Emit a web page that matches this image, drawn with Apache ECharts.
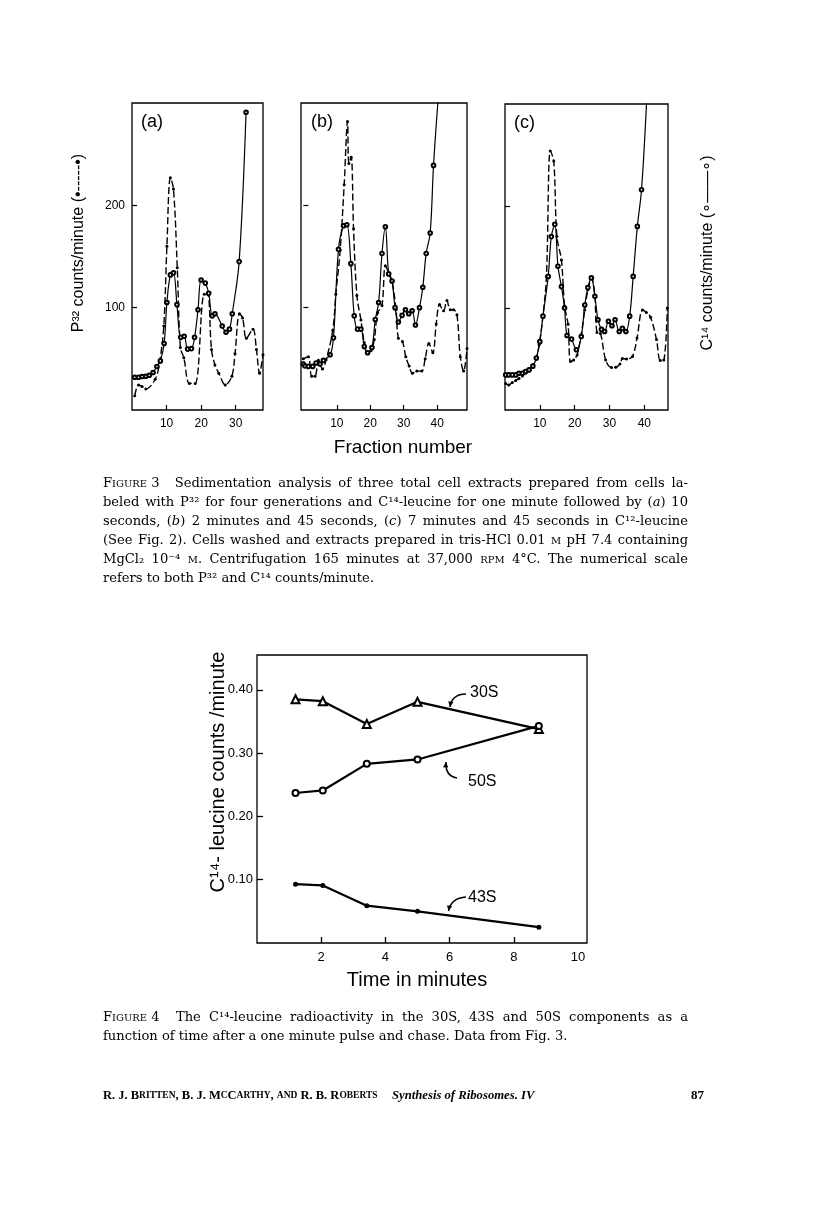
<!DOCTYPE html>
<html>
<head>
<meta charset="utf-8">
<script src="https://cdn.jsdelivr.net/npm/echarts@6/dist/echarts.min.js"></script>
</head>
<body style="margin:0;background:#fff">
<div id="main" style="width:816px;height:1229px"></div>
<script>
// Figure 3 - sedimentation profiles, [fraction number, counts/minute]
var pA32 = [[0.8,14],[1.9,24.5],[2.9,23],[4,20.5],[6.7,30],[8,47],[9.2,82],[10.1,160],[11.1,227],[12,216],[13.1,139],[14,61],[15,51],[16.6,26],[18.3,26],[20.9,113],[21.9,113],[23,59],[24,44],[25.1,36],[27,24.5],[28.9,33],[29.8,55],[31.1,94],[32,90],[33.1,70],[35,79],[36,59],[36.9,36],[37.9,54]];
var pA14 = [[0.8,32],[1.9,32],[2.9,32.7],[4,33],[5,34],[6.1,36.6],[7.2,42.5],[8.2,48],[9.3,65],[10.1,105],[11.1,132],[12,134],[13,103],[14.1,71],[15.1,72],[16.1,59.5],[17.2,60],[18.1,71],[19.1,98],[20,127],[21.2,124],[22.2,114],[23.2,92],[24,94],[26.1,82],[27.2,76],[28.2,79],[29,94],[31,145],[33,291]];
var pB32 = [[0,50],[1.5,52],[2.5,33],[3.5,33],[4.5,48.5],[5.7,40],[6.8,49],[8.8,78],[9.7,113],[11,156],[12.2,220],[13.2,282],[13.6,241],[14.3,247],[15,177],[16,112],[17.2,88],[18.2,66],[19.2,56],[20.2,58],[21.2,69],[22.2,95],[23.5,102],[24.5,141],[25.5,134],[26.5,126],[27.7,98],[28.4,70],[29.6,67],[30.6,52],[31.6,43],[32.6,36],[33.9,38],[35.4,38],[36.4,50],[37.5,65],[38.7,56],[39.7,84],[40.7,103],[41.9,97],[42.9,107],[43.9,98],[44.9,98],[45.9,93],[46.9,52],[47.9,38],[48.9,60]];
var pB14 = [[0,45],[0.5,43],[1.5,42.6],[2.8,42.6],[3.8,46],[5,45],[6,48.5],[8,54],[9,70.5],[10.5,157],[12,180],[13,181],[14.2,143],[15.2,92],[16.2,79],[17.2,79],[18.2,62],[19.2,56],[20.5,61],[21.5,88.5],[22.5,105],[23.5,153],[24.5,179],[25.5,133],[26.5,126],[27.4,100],[28.4,86],[29.5,92.5],[30.5,98],[31.5,94],[32.5,97],[33.5,83],[34.7,100],[35.7,120],[36.7,153],[37.9,173],[38.9,239],[40.3,305]];
var pC32 = [[0.2,26],[1.1,24.6],[2.1,27],[3.1,29],[4,31],[5,33.4],[5.9,36],[7.1,39],[8,44],[9,50],[9.8,64],[10.9,92],[11.9,131],[13,254],[14,244],[14.9,170],[16.2,147],[17.1,102],[18.1,84],[18.8,47.5],[19.7,49],[20.7,54],[21.9,74],[22.9,98],[23.8,118],[24.9,129.5],[25.8,111.5],[26.4,76],[27.4,75],[28.9,49],[30.6,41.6],[31.8,42],[33,45],[33.7,50.5],[34.9,50],[36.6,52.5],[37.9,70.5],[39.5,98],[40.6,95.7],[41.8,91],[43.5,69],[44.6,48.5],[45.6,49],[46.6,100]];
var pC14 = [[0.2,34.4],[1.1,34.4],[2.1,34.4],[3.1,34.4],[4,36],[5,36],[5.9,37.7],[6.9,39.3],[8,43],[9,51],[10,67],[10.9,92],[12.4,131],[13.3,170],[14.3,182],[15.2,141],[16.2,121],[17.1,100],[17.8,73],[19.1,69.5],[20.5,59],[21.9,72],[22.9,103],[23.8,120],[24.8,129.5],[25.8,111.5],[26.7,88.5],[27.7,79],[28.6,77],[29.7,87],[30.7,82.6],[31.6,88.5],[32.8,77],[33.7,80],[34.7,77],[35.8,92],[36.8,131],[38,180],[39.2,216],[40.7,305]];
var fracTicksA = [10, 20, 30];
var fracTicksBC = [10, 20, 30, 40];
var countTicks = [100, 200];

// Figure 4 - C14-leucine counts/minute vs time
var times = [1.2, 2.05, 3.42, 5.0, 8.78];
var s30 = [0.385, 0.382, 0.346, 0.381, 0.338];
var s50 = [0.237, 0.241, 0.283, 0.290, 0.343];
var s43 = [0.093, 0.091, 0.059, 0.050, 0.025];
var timeTicks = [2, 4, 6, 8];
var timeLabels = [2, 4, 6, 8, 10];
var countTicks4 = [0.10, 0.20, 0.30, 0.40];

var sans = '"Liberation Sans", Arial, sans-serif';
var serif = '"DejaVu Serif", serif';
var times_ = '"Liberation Serif", serif';

var cv = document.createElement('canvas').getContext('2d');
function parts(w) {
    var out = [], re = /\{(\w+)\|([^}]*)\}/g, m, last = 0;
    while ((m = re.exec(w))) {
        if (m.index > last) out.push(['n', w.slice(last, m.index)]);
        out.push([m[1], m[2]]);
        last = re.lastIndex;
    }
    if (last < w.length) out.push(['n', w.slice(last)]);
    return out;
}
function fontOf(k, size) {
    var st = k === 'i' ? 'italic ' : '';
    var sz = k === 's' ? size * 0.76 : size;
    return st + 'normal ' + sz + 'px ' + serif;
}
function wordWidth(w, size) {
    return parts(w).reduce(function (a, p) {
        cv.font = fontOf(p[0], size);
        return a + cv.measureText(p[1]).width;
    }, 0);
}
// font size that makes a string as wide as it is in the scan
function fitSize(str, width) {
    return 20 * width / wordWidth(str, 20);
}
function textEl(x, y, str, o) {
    o = o || {};
    var size = o.size || 15;
    var fam = o.family || serif;
    return {
        type: 'text', x: x, y: y, rotation: o.rot || 0, silent: true,
        style: {
            text: str, fill: '#000', fontSize: size, fontFamily: fam,
            fontWeight: o.weight || 'normal', fontStyle: o.style || 'normal',
            align: o.align || 'left', verticalAlign: 'middle',
            textAlign: o.align || 'left', textVerticalAlign: 'middle',
            rich: {
                s: {fontSize: size * 0.76, fontFamily: fam, fontWeight: o.weight || 'normal'},
                i: {fontSize: size, fontFamily: fam, fontStyle: 'italic', fontWeight: o.weight || 'normal'}
            }
        }
    };
}
function justify(line, x0, x1, y, size, last) {
    var words = line.split(' ');
    var ws = words.map(function (w) { return wordWidth(w, size); });
    var total = ws.reduce(function (a, b) { return a + b; }, 0);
    cv.font = fontOf('n', size);
    var gap = last ? cv.measureText(' ').width : (x1 - x0 - total) / (words.length - 1);
    var x = x0, els = [];
    words.forEach(function (w, i) {
        els.push(textEl(x, y, w, {size: size}));
        x += ws[i] + gap;
    });
    return els;
}
function arrow(x1, y1, cx, cy, x2, y2) {
    var dx = x2 - cx, dy = y2 - cy, l = Math.sqrt(dx * dx + dy * dy);
    dx /= l; dy /= l;
    var a = 0.45, h = 6;
    var p1 = [x2 - h * (dx * Math.cos(a) - dy * Math.sin(a)), y2 - h * (dx * Math.sin(a) + dy * Math.cos(a))];
    var p2 = [x2 - h * (dx * Math.cos(-a) - dy * Math.sin(-a)), y2 - h * (dx * Math.sin(-a) + dy * Math.cos(-a))];
    return [
        {type: 'bezierCurve', silent: true, shape: {x1: x1, y1: y1, cpx1: cx, cpy1: cy, x2: x2, y2: y2},
            style: {stroke: '#000', lineWidth: 1.5, fill: null}},
        {type: 'polygon', silent: true, shape: {points: [p1, [x2, y2], p2]}, style: {fill: '#000'}}
    ];
}

var cap3 = [
    'F{s|IGURE}\u00a03\u00a0\u00a0 Sedimentation analysis of three total cell extracts prepared from cells la-',
    'beled with P³² for four generations and C¹⁴-leucine for one minute followed by ({i|a}) 10',
    'seconds, ({i|b}) 2 minutes and 45 seconds, ({i|c}) 7 minutes and 45 seconds in C¹²-leucine',
    '(See Fig. 2). Cells washed and extracts prepared in tris-HCl 0.01 {s|M} pH 7.4 containing',
    'MgCl₂ 10⁻⁴ {s|M}. Centrifugation 165 minutes at 37,000 {s|RPM} 4°C. The numerical scale',
    'refers to both P³² and C¹⁴ counts/minute.'
];
var cap4 = [
    'F{s|IGURE}\u00a04\u00a0\u00a0 The C¹⁴-leucine radioactivity in the 30S, 43S and 50S components as a',
    'function of time after a one minute pulse and chase. Data from Fig. 3.'
];

var capSize = Math.min(15.5, fitSize(cap3[5], 271));
var graphics = [];
cap3.forEach(function (l, i) {
    graphics = graphics.concat(justify(l, 103, 688, 484 + i * 19, capSize, i === cap3.length - 1));
});
cap4.forEach(function (l, i) {
    graphics = graphics.concat(justify(l, 103, 688, 1018 + i * 19, capSize, i === cap4.length - 1));
});
graphics.push(textEl(103, 1096, 'R. J. B{s|RITTEN}, B. J. M{s|C}C{s|ARTHY}, {s|AND} R. B. R{s|OBERTS}', {weight: 'bold', size: 12.5, family: times_}));
graphics.push(textEl(392, 1096, 'Synthesis of Ribosomes. IV', {weight: 'bold', style: 'italic', size: 12.7, family: times_}));
graphics.push(textEl(704, 1096, '87', {weight: 'bold', align: 'right', size: 13, family: times_}));

// figure 3 labels
graphics.push(textEl(141, 122, '(a)', {family: sans, size: 18}));
graphics.push(textEl(311, 122, '(b)', {family: sans, size: 18}));
graphics.push(textEl(514, 123, '(c)', {family: sans, size: 18}));
graphics.push(textEl(79, 243, 'P³² counts/minute (•-----•)', {family: sans, size: 16, align: 'center', rot: Math.PI / 2}));
graphics.push(textEl(708, 253, 'C¹⁴ counts/minute (∘——∘)', {family: sans, size: 16, align: 'center', rot: Math.PI / 2}));
graphics.push(textEl(403, 448, 'Fraction number', {family: sans, size: 19, align: 'center'}));

// figure 4 labels
graphics.push(textEl(218, 772, 'C¹⁴- leucine counts /minute', {family: sans, size: 20, align: 'center', rot: Math.PI / 2}));
graphics.push(textEl(417, 980, 'Time in minutes', {family: sans, size: 20, align: 'center'}));
graphics.push(textEl(470, 693, '30S', {family: sans, size: 16}));
graphics.push(textEl(468, 782, '50S', {family: sans, size: 16}));
graphics.push(textEl(468, 898, '43S', {family: sans, size: 16}));
graphics = graphics.concat(arrow(466, 694, 452, 694, 450, 707));
graphics = graphics.concat(arrow(457, 778, 445, 776, 446, 762));
graphics = graphics.concat(arrow(466, 897, 451, 898, 448.5, 911));

var gridBox = {show: true, borderColor: '#000', borderWidth: 1.3, backgroundColor: 'transparent'};
var grids = [
    Object.assign({left: 132, top: 103, width: 131, height: 307}, gridBox),
    Object.assign({left: 301, top: 103, width: 166, height: 307}, gridBox),
    Object.assign({left: 505, top: 104, width: 163, height: 306}, gridBox),
    Object.assign({left: 257, top: 655, width: 330, height: 288}, gridBox)
];
var xRanges = [[0, 37.9], [-0.7, 48.9], [0, 46.8]];

var xAxes = xRanges.map(function (r, i) {
    var ticks = i === 0 ? fracTicksA : fracTicksBC;
    return {
        gridIndex: i, type: 'value', min: r[0], max: r[1],
        axisLine: {show: false}, splitLine: {show: false},
        axisTick: {inside: true, length: 5, customValues: ticks, lineStyle: {color: '#000', width: 1.2}},
        axisLabel: {customValues: ticks, color: '#000', fontSize: 12, fontFamily: sans, margin: 8}
    };
});
xAxes.push({
    gridIndex: 3, type: 'value', min: 0, max: 10.28,
    axisLine: {show: false}, splitLine: {show: false},
    axisTick: {inside: true, length: 6, customValues: timeTicks, lineStyle: {color: '#000', width: 1.3}},
    axisLabel: {customValues: timeLabels, color: '#000', fontSize: 13, fontFamily: sans, margin: 8}
});
var yAxes = [0, 1, 2].map(function (i) {
    return {
        gridIndex: i, type: 'value', min: 0, max: 300,
        axisLine: {show: false}, splitLine: {show: false},
        axisTick: {inside: true, length: 5, customValues: countTicks, lineStyle: {color: '#000', width: 1.2}},
        axisLabel: {show: i === 0, customValues: countTicks, color: '#000', fontSize: 12, fontFamily: sans, margin: 7}
    };
});
yAxes.push({
    gridIndex: 3, type: 'value', min: 0, max: 0.455,
    axisLine: {show: false}, splitLine: {show: false},
    axisTick: {inside: true, length: 6, customValues: countTicks4, lineStyle: {color: '#000', width: 1.3}},
    axisLabel: {customValues: countTicks4, color: '#000', fontSize: 13, fontFamily: sans, margin: 4,
        formatter: function (v) { return v.toFixed(2); }}
});

function p32(data, k) {
    return {type: 'line', xAxisIndex: k, yAxisIndex: k, data: data, smooth: 0.35, clip: true,
        symbol: 'circle', symbolSize: 3, itemStyle: {color: '#000'},
        lineStyle: {color: '#000', width: 1.4, type: [7, 3]}};
}
function c14(data, k) {
    return {type: 'line', xAxisIndex: k, yAxisIndex: k, data: data, smooth: 0.35, clip: true,
        symbol: 'emptyCircle', symbolSize: 3.6, itemStyle: {color: '#000', borderWidth: 0.8},
        lineStyle: {color: '#000', width: 1.2}};
}
function pairs(ys) {
    return times.map(function (t, i) { return [t, ys[i]]; });
}
function fig4(ys, sym, size) {
    return {type: 'line', xAxisIndex: 3, yAxisIndex: 3, data: pairs(ys),
        symbol: sym, symbolSize: size, itemStyle: {color: '#000', borderWidth: 1.2},
        lineStyle: {color: '#000', width: 2.2}};
}

var myChart = echarts.init(document.getElementById('main'));
myChart.setOption({
    animation: false,
    backgroundColor: '#fff',
    grid: grids,
    xAxis: xAxes,
    yAxis: yAxes,
    series: [
        p32(pA32, 0), c14(pA14, 0),
        p32(pB32, 1), c14(pB14, 1),
        p32(pC32, 2), c14(pC14, 2),
        fig4(s30, 'emptyTriangle', 8),
        fig4(s50, 'emptyCircle', 6),
        fig4(s43, 'circle', 5)
    ],
    graphic: graphics
});
</script>
</body>
</html>
